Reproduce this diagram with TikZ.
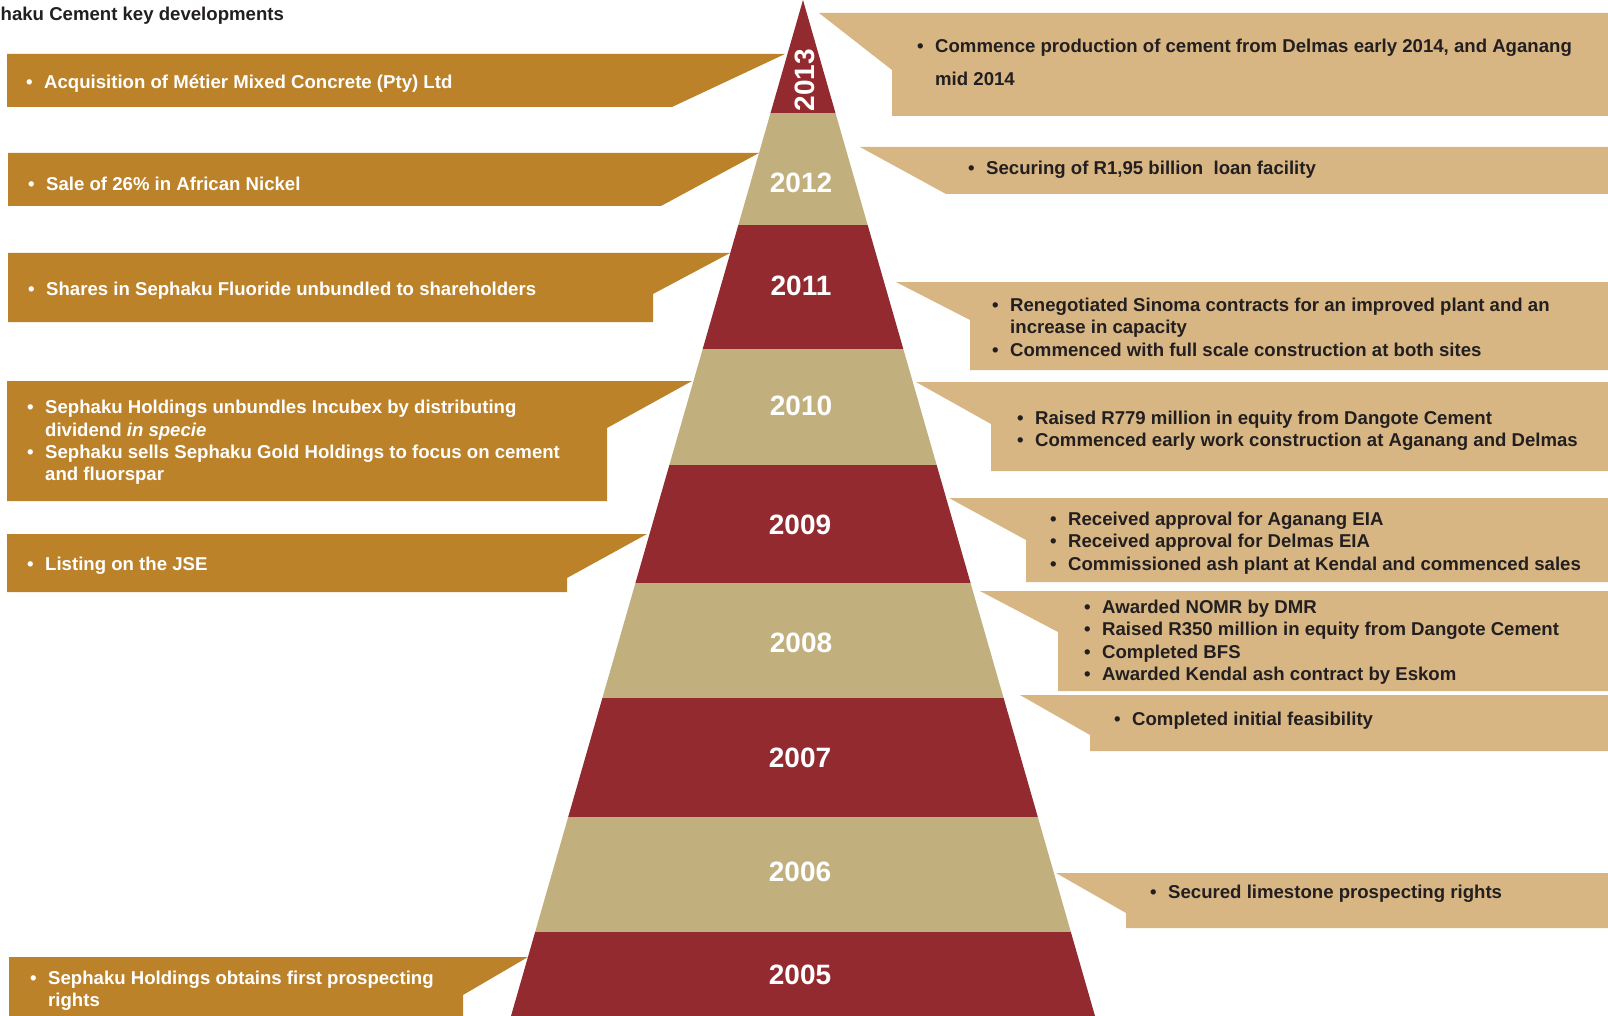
\documentclass[tikz,border=0pt]{standalone}
\usepackage{fontspec}
\setmainfont{Liberation Sans}
\definecolor{pred}{RGB}{146,42,48}
\definecolor{ptan}{RGB}{193,176,126}
\definecolor{lgold}{RGB}{187,130,41}
\definecolor{rtan}{RGB}{215,182,131}
\definecolor{dtext}{RGB}{35,31,32}
\newcommand\bu{\makebox[18pt][l]{•}}
\newcommand\ind{\hspace*{18pt}}
\tikzset{
  txt/.style={font=\fontsize{18.6}{22.4}\selectfont\bfseries, anchor=west, inner sep=0pt, align=left},
  ltxt/.style={txt, text=white},
  rtxt/.style={txt, text=dtext},
  yr/.style={font=\fontsize{28}{30}\selectfont\bfseries, text=white, inner sep=0pt},
  lbox/.style={fill=lgold},
  rbox/.style={fill=rtan}
}
\begin{document}
\begin{tikzpicture}[x=1pt,y=-1pt]
\useasboundingbox (0,0) rectangle (1608,1016);
\fill[white] (0,0) rectangle (1608,1016);
% title
\node[txt, text=dtext] (title) at (0.5,16) {haku Cement key developments};
% left boxes
\fill[lbox] (7,54) -- (785,54) -- (672,107) -- (7,107) -- cycle;
\fill[lbox] (8,153) -- (759,153) -- (661,206) -- (8,206) -- cycle;
\fill[lbox] (8,253) -- (730,253) -- (653,294) -- (653,322) -- (8,322) -- cycle;
\fill[lbox] (7,381) -- (692,381) -- (607,428) -- (607,501) -- (7,501) -- cycle;
\fill[lbox] (7,534) -- (647,534) -- (567,578) -- (567,592) -- (7,592) -- cycle;
\fill[lbox] (9,957) -- (528,957) -- (463,995) -- (463,1016) -- (9,1016) -- cycle;
% right boxes
\fill[rbox] (819,13) -- (1608,13) -- (1608,116) -- (892,116) -- (892,70) -- cycle;
\fill[rbox] (860,147) -- (1608,147) -- (1608,194) -- (946,194) -- cycle;
\fill[rbox] (896,282) -- (1608,282) -- (1608,370) -- (970,370) -- (970,320) -- cycle;
\fill[rbox] (916,382) -- (1608,382) -- (1608,471) -- (991,471) -- (991,424) -- cycle;
\fill[rbox] (949,498) -- (1608,498) -- (1608,582) -- (1026,582) -- (1026,540) -- cycle;
\fill[rbox] (980,591) -- (1608,591) -- (1608,691) -- (1058,691) -- (1058,632) -- cycle;
\fill[rbox] (1020,695) -- (1608,695) -- (1608,751) -- (1090,751) -- (1090,735) -- cycle;
\fill[rbox] (1056,873) -- (1608,873) -- (1608,928) -- (1126,928) -- (1126,913) -- cycle;
% pyramid
\begin{scope}
\clip (803,0) -- (1095,1016) -- (511,1016) -- cycle;
\fill[pred] (500,0) rectangle (1110,113);
\fill[ptan] (500,113) rectangle (1110,225);
\fill[pred] (500,225) rectangle (1110,349);
\fill[ptan] (500,349) rectangle (1110,465);
\fill[pred] (500,465) rectangle (1110,583);
\fill[ptan] (500,583) rectangle (1110,698);
\fill[pred] (500,698) rectangle (1110,817);
\fill[ptan] (500,817) rectangle (1110,932);
\fill[pred] (500,932) rectangle (1110,1016);
\end{scope}
% years
\node[yr, rotate=90] (y2013) at (805,80) {2013};
\node[yr] (y2012) at (801,183) {2012};
\node[yr] (y2011) at (801,286) {2011};
\node[yr] (y2010) at (801,406) {2010};
\node[yr] (y2009) at (800,525) {2009};
\node[yr] (y2008) at (801,643) {2008};
\node[yr] (y2007) at (800,758) {2007};
\node[yr] (y2006) at (800,872) {2006};
\node[yr] (y2005) at (800,975) {2005};
% left texts
\node[ltxt] (l2013) at (26,84) {\bu Acquisition of Métier Mixed Concrete (Pty) Ltd};
\node[ltxt] (l2012) at (28,184) {\bu Sale of 26\% in African Nickel};
\node[ltxt] (l2011) at (28,291) {\bu Shares in Sephaku Fluoride unbundled to shareholders};
\node[ltxt] (l2010) at (27,442.5) {\bu Sephaku Holdings unbundles Incubex by distributing\\\ind dividend \textit{in specie}\\\bu Sephaku sells Sephaku Gold Holdings to focus on cement\\\ind and fluorspar};
\node[ltxt] (l2009) at (27,566) {\bu Listing on the JSE};
\node[ltxt] (l2005) at (30,990.5) {\bu Sephaku Holdings obtains first prospecting\\\ind rights};
% right texts
\node[rtxt] (r2013) at (917,62) {\bu Commence production of cement from Delmas early 2014, and Aganang\\[10.6pt]\ind mid 2014};
\node[rtxt] (r2012) at (968,170) {\bu Securing of R1,95 billion\ \ loan facility};
\node[rtxt] (r2011) at (992,327) {\bu Renegotiated Sinoma contracts for an improved plant and an\\\ind increase in capacity\\\bu Commenced with full scale construction at both sites};
\node[rtxt] (r2010) at (1017,431) {\bu Raised R779 million in equity from Dangote Cement\\\bu Commenced early work construction at Aganang and Delmas};
\node[rtxt] (r2009) at (1050,543) {\bu Received approval for Aganang EIA\\\bu Received approval for Delmas EIA\\\bu Commissioned ash plant at Kendal and commenced sales};
\node[rtxt] (r2008) at (1084,642) {\bu Awarded NOMR by DMR\\\bu Raised R350 million in equity from Dangote Cement\\\bu Completed BFS\\\bu Awarded Kendal ash contract by Eskom};
\node[rtxt] (r2007) at (1114,721) {\bu Completed initial feasibility};
\node[rtxt] (r2006) at (1150,894) {\bu Secured limestone prospecting rights};
\end{tikzpicture}
\end{document}
